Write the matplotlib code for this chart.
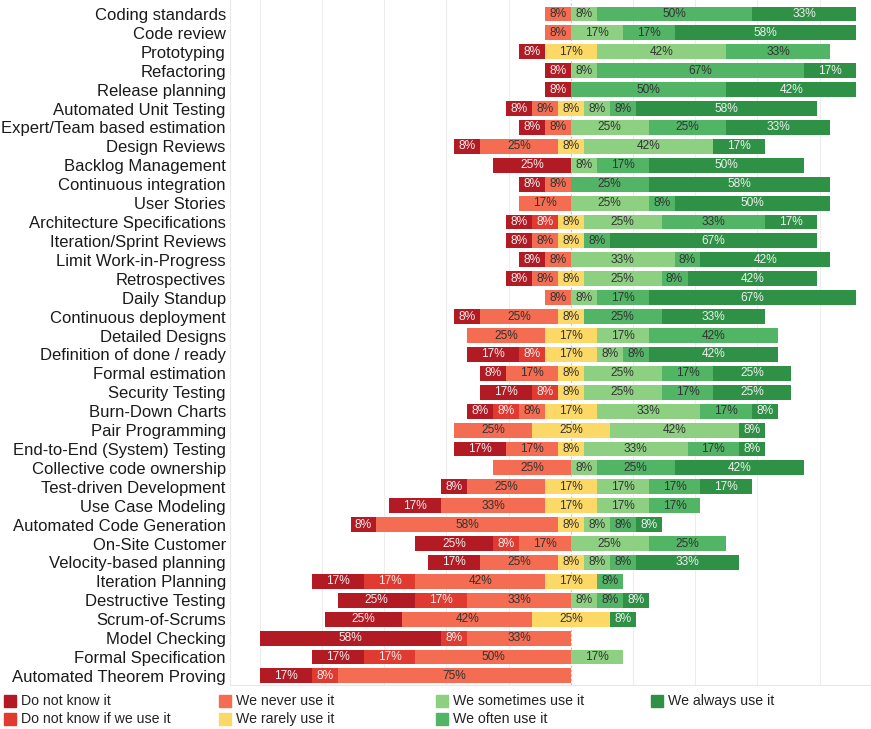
import numpy as np
import matplotlib.pyplot as plt
from matplotlib.patches import Rectangle

plt.rcParams['font.family'] = ['Liberation Sans', 'DejaVu Sans']

practices = [
    'Coding standards', 'Code review', 'Prototyping', 'Refactoring',
    'Release planning', 'Automated Unit Testing', 'Expert/Team based estimation',
    'Design Reviews', 'Backlog Management', 'Continuous integration',
    'User Stories', 'Architecture Specifications', 'Iteration/Sprint Reviews',
    'Limit Work-in-Progress', 'Retrospectives', 'Daily Standup',
    'Continuous deployment', 'Detailed Designs', 'Definition of done / ready',
    'Formal estimation', 'Security Testing', 'Burn-Down Charts',
    'Pair Programming', 'End-to-End (System) Testing', 'Collective code ownership',
    'Test-driven Development', 'Use Case Modeling', 'Automated Code Generation',
    'On-Site Customer', 'Velocity-based planning', 'Iteration Planning',
    'Destructive Testing', 'Scrum-of-Scrums', 'Model Checking',
    'Formal Specification', 'Automated Theorem Proving',
]

# number of answers per practice (12 respondents)
n_respondents = 12
do_not_know = [0, 0, 1, 1, 1, 1, 1, 1, 3, 1, 0, 1, 1, 1, 1, 0, 1, 0,
               2, 1, 2, 1, 0, 2, 0, 1, 2, 1, 3, 2, 2, 3, 3, 7, 2, 2]
do_not_know_if = [0, 0, 0, 0, 0, 0, 0, 0, 0, 0, 0, 1, 0, 0, 0, 0, 0, 0,
                  1, 0, 1, 1, 0, 0, 0, 0, 0, 0, 1, 0, 2, 2, 0, 1, 2, 1]
never = [1, 1, 0, 0, 0, 1, 1, 3, 0, 1, 2, 0, 1, 1, 1, 1, 3, 3,
         0, 2, 0, 1, 3, 2, 3, 3, 4, 7, 2, 3, 5, 4, 5, 4, 6, 9]
rarely = [0, 0, 2, 0, 0, 1, 0, 1, 0, 0, 0, 1, 1, 0, 1, 0, 1, 2,
          2, 1, 1, 2, 3, 1, 0, 2, 2, 1, 0, 1, 2, 0, 3, 0, 0, 0]
sometimes = [1, 2, 5, 1, 0, 1, 3, 5, 1, 0, 3, 3, 0, 4, 3, 1, 0, 2,
             1, 3, 3, 4, 5, 4, 1, 2, 2, 1, 3, 1, 0, 1, 0, 0, 2, 0]
often = [6, 2, 4, 8, 6, 1, 3, 0, 2, 3, 1, 4, 1, 1, 1, 2, 3, 5,
         1, 2, 2, 2, 0, 2, 3, 2, 2, 1, 3, 1, 1, 1, 0, 0, 0, 0]
always = [4, 7, 0, 2, 5, 7, 4, 2, 6, 7, 6, 2, 8, 5, 5, 8, 4, 0,
          5, 3, 3, 1, 1, 1, 5, 2, 0, 1, 0, 4, 0, 1, 1, 0, 0, 0]

levels = ['Do not know it', 'Do not know if we use it', 'We never use it',
          'We rarely use it', 'We sometimes use it', 'We often use it',
          'We always use it']
colors = ['#b31b24', '#e03a31', '#f46c51', '#fcd867', '#8ed082', '#52b566', '#2f9146']
text_colors = ['#eeeeee', '#eeeeee', '#333333', '#333333', '#333333', '#333333', '#eeeeee']

counts = np.array([do_not_know, do_not_know_if, never, rarely,
                   sometimes, often, always]).T
pct = counts / n_respondents * 100

W, H = 871, 729
fig = plt.figure(figsize=(W / 100, H / 100), dpi=100)
ax = fig.add_axes([230 / W, 1 - 685 / H, 641 / W, 685 / H])

y = np.arange(len(practices))
# shift every bar so the "rarely" share sits half each side of zero
left = -(pct[:, 0] + pct[:, 1] + pct[:, 2] + pct[:, 3] / 2)
for j, level in enumerate(levels):
    widths = pct[:, j]
    bars = ax.barh(y, widths, left=left, height=0.79, color=colors[j],
                   label=level, zorder=2)
    labels = [f'{w:.0f}%' if w > 0 else '' for w in widths]
    ax.bar_label(bars, labels=labels, label_type='center', fontsize=8.6,
                 color=text_colors[j])
    left = left + widths

ax.set_xlim(-109.6, 96.5)
ax.set_ylim(35.48, -0.74)

ax.set_xticks([-100, -80, -60, -40, -20, 20, 40, 60, 80])
ax.tick_params(axis='x', length=0, labelbottom=False)
ax.grid(axis='x', color='#ededed', lw=0.8)
ax.set_axisbelow(True)
ax.axvline(0, color='#c4c4c4', lw=0.8, ls=(0, (2, 2)), zorder=1)

ax.set_yticks(y, practices)
ax.tick_params(axis='y', length=0, pad=3, labelsize=12, labelcolor='#1a1a1a')

for side in ['top', 'right']:
    ax.spines[side].set_visible(False)
for side in ['left', 'bottom']:
    ax.spines[side].set_color('#e8e8e8')

# legend in four columns below the chart
col_x = [4, 219, 436, 651]
row_y = [701, 719]
for i, level in enumerate(levels):
    x0 = col_x[i // 2]
    yc = row_y[i % 2]
    fig.add_artist(Rectangle((x0 / W, 1 - (yc + 6) / H), 12 / W, 12 / H,
                             transform=fig.transFigure, color=colors[i]))
    fig.text((x0 + 17) / W, 1 - yc / H, level, ha='left', va='center',
             fontsize=10.2, color='#222222')

fig.savefig('out.png', dpi=100)
